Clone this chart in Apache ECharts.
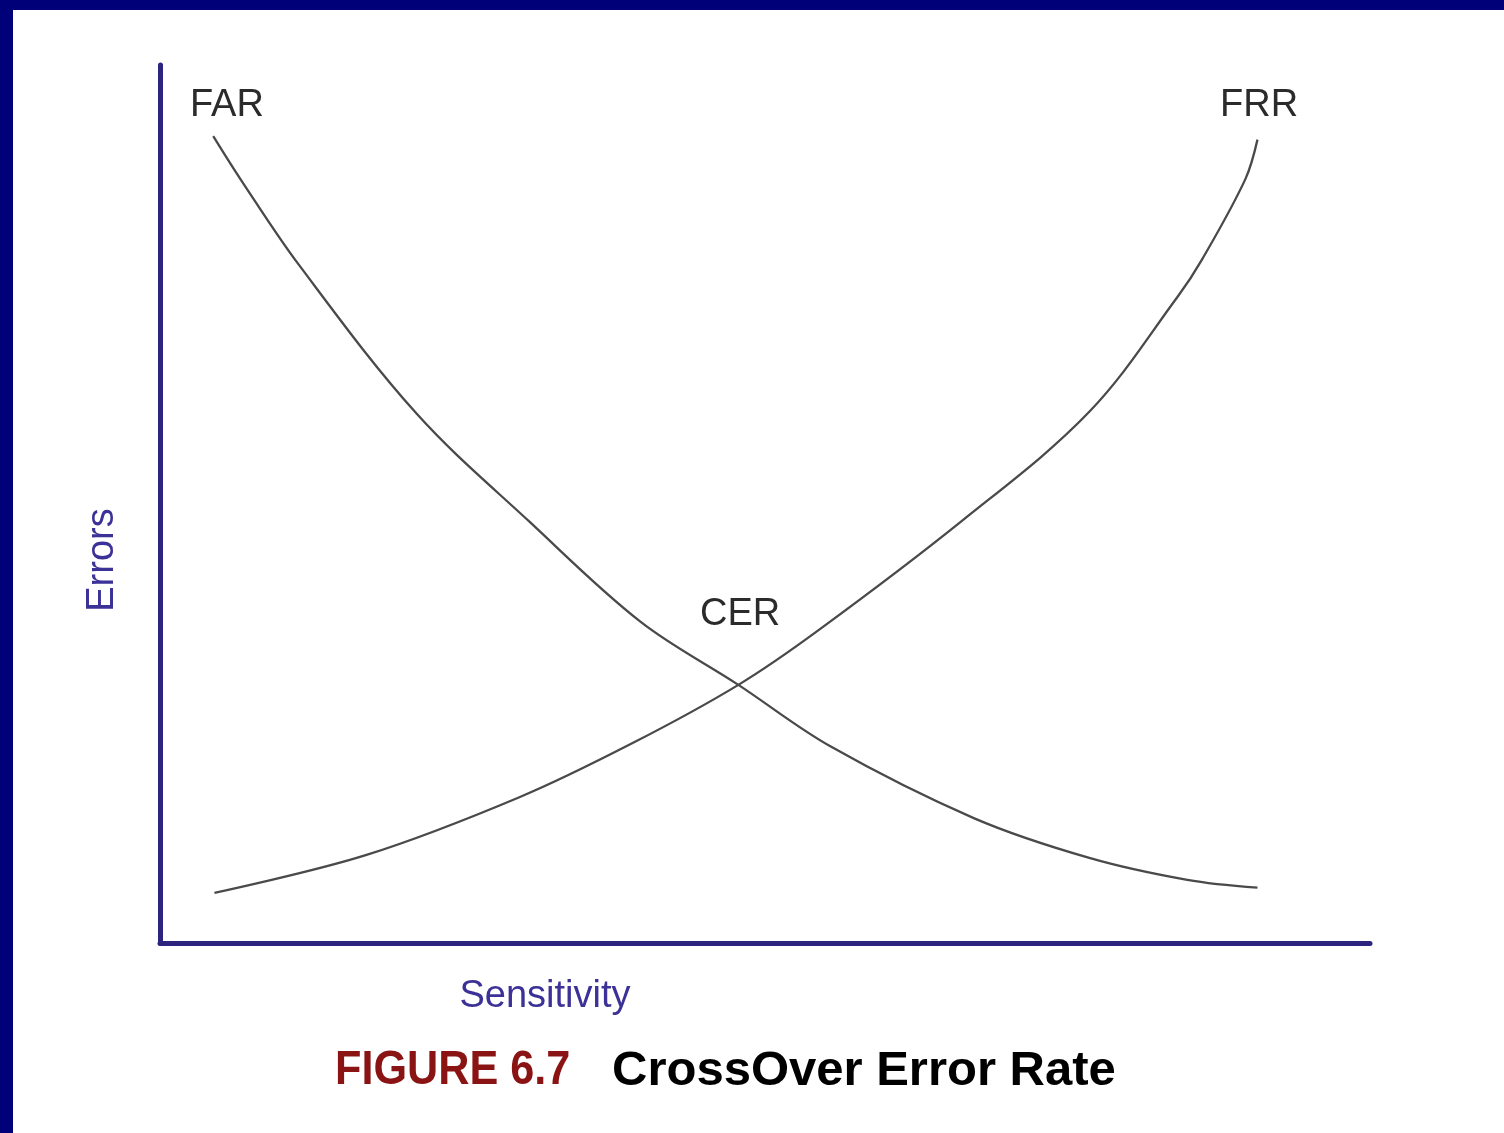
<!DOCTYPE html>
<html>
<head>
<meta charset="utf-8">
<script src="https://cdn.jsdelivr.net/npm/echarts@6/dist/echarts.min.js"></script>
<style>
  html, body { margin: 0; padding: 0; width: 1504px; height: 1133px; background: #000078; overflow: hidden; }
  #chart { position: absolute; left: 13px; top: 10px; width: 1491px; height: 1123px; background: #ffffff; }
</style>
</head>
<body>
<div id="chart"></div>
<script>
// Sensitivity (x, 0-100) and error level (y, 0-100)
const farX = [4.4, 6.7, 11.5, 21.2, 30.6, 39.7, 47.8, 55.4, 67.3, 76.8, 84.9, 90.7];
const farY = [91.9, 86.9, 77.2, 60.3, 47.9, 36.6, 29.4, 22.4, 14.2, 9.7, 7.2, 6.3];
const frrX = [4.5, 17.0, 29.7, 39.1, 47.8, 54.4, 66.3, 76.8, 84.1, 86.1, 89.7, 90.7];
const frrY = [5.7, 10.0, 16.6, 22.8, 29.4, 35.6, 48.1, 60.5, 73.6, 77.8, 87.0, 91.5];
const curveLabels = ['FAR', 'FRR', 'CER'];
const axisNames = ['Sensitivity', 'Errors'];
const figureNumber = 'FIGURE 6.7';
const figureTitle = 'CrossOver Error Rate';

const pair = (xs, ys) => xs.map((x, i) => [x, ys[i]]);

const chart = echarts.init(document.getElementById('chart'), null, { renderer: 'canvas' });
const font = '"Liberation Sans", Arial, Helvetica, sans-serif';
const axisColor = '#2d2480';
const nameColor = '#3b3196';
const curveColor = '#4a4a4a';

chart.setOption({
  animation: false,
  backgroundColor: '#ffffff',
  grid: { left: 147, right: 134, top: 55, bottom: 190, containLabel: false },
  xAxis: {
    type: 'value', min: 0, max: 100,
    axisLine: { show: true, lineStyle: { color: axisColor, width: 5, cap: 'round' } },
    axisTick: { show: false }, axisLabel: { show: false }, splitLine: { show: false }
  },
  yAxis: {
    type: 'value', min: 0, max: 100,
    axisLine: { show: true, lineStyle: { color: axisColor, width: 5, cap: 'round' } },
    axisTick: { show: false }, axisLabel: { show: false }, splitLine: { show: false }
  },
  series: [
    {
      name: curveLabels[0], type: 'line', data: pair(farX, farY), smooth: 0.35,
      showSymbol: false, lineStyle: { color: curveColor, width: 2.3 }
    },
    {
      name: curveLabels[1], type: 'line', data: pair(frrX, frrY), smooth: 0.35,
      showSymbol: false, lineStyle: { color: curveColor, width: 2.3 }
    }
  ],
  graphic: [
    { type: 'text', left: 177, top: 77, style: { text: curveLabels[0], font: '38px ' + font, fill: '#2b2b2b' } },
    { type: 'text', left: 1207, top: 77, style: { text: curveLabels[1], font: '38px ' + font, fill: '#2b2b2b' } },
    { type: 'text', left: 687, top: 586, style: { text: curveLabels[2], font: '38px ' + font, fill: '#2b2b2b' } },
    { type: 'text', x: 90, y: 550, rotation: Math.PI / 2,
      style: { text: axisNames[1], font: '38px ' + font, fill: nameColor, align: 'center', verticalAlign: 'middle' } },
    { type: 'text', x: 532, y: 987,
      style: { text: axisNames[0], font: '38px ' + font, fill: nameColor, align: 'center', verticalAlign: 'middle' } },
    { type: 'text', x: 322, y: 1061, scaleX: 0.9,
      style: { text: figureNumber, font: 'bold 48px ' + font, fill: '#8a1414', align: 'left', verticalAlign: 'middle' } },
    { type: 'text', x: 599, y: 1061,
      style: { text: figureTitle, font: 'bold 49px ' + font, fill: '#000000', align: 'left', verticalAlign: 'middle' } }
  ]
});
</script>
</body>
</html>
